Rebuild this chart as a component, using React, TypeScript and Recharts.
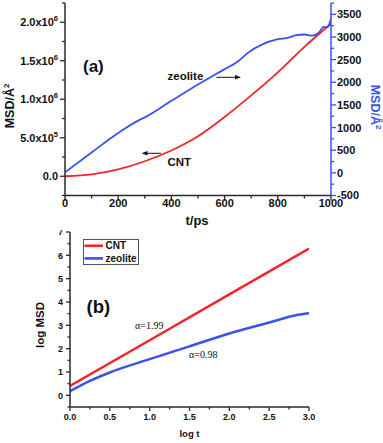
import React from 'react';
import { LineChart, Line, XAxis, YAxis, Legend } from 'recharts';

// ---------- Panel (a) data ----------
const cntTimePs = [0, 100, 200, 300, 400, 500, 600, 700, 800, 900, 1000];
const cntMsd = [0, 2.5e4, 9e4, 1.95e5, 3.35e5, 5.2e5, 7.7e5, 1.05e6, 1.35e6, 1.68e6, 1.98e6];

const zeoTimePs = [0, 100, 200, 280, 300, 400, 500, 600, 650, 690, 740, 800, 840, 865, 900, 930, 955, 972, 985, 1000];
const zeoMsd = [12, 450, 880, 1170, 1225, 1590, 1950, 2290, 2460, 2660, 2830, 2950, 2985, 3035, 3055, 3028, 3100, 3225, 3210, 3410];

const aXTicks = [0, 100, 200, 300, 400, 500, 600, 700, 800, 900, 1000];
const aLeftTicks = [-250000, 0, 250000, 500000, 750000, 1000000, 1250000, 1500000, 1750000, 2000000, 2250000];
const aRightTicks = [-500, -250, 0, 250, 500, 750, 1000, 1250, 1500, 1750, 2000, 2250, 2500, 2750, 3000, 3250, 3500, 3750];

// ---------- Panel (b) data ----------
const logTCnt = [0, 1, 2, 3];
const logMsdCnt = [0.4, 2.36, 4.33, 6.29];
const logTZeo = [0, 0.25, 0.5, 1.0, 1.5, 2.0, 2.5, 2.85, 2.95, 3.0];
const logMsdZeo = [0.18, 0.62, 0.98, 1.55, 2.1, 2.65, 3.12, 3.44, 3.5, 3.52];

const bXTicks = [0, 0.25, 0.5, 0.75, 1, 1.25, 1.5, 1.75, 2, 2.25, 2.5, 2.75, 3];
const bYTicks = [-0.5, 0, 0.5, 1, 1.5, 2, 2.5, 3, 3.5, 4, 4.5, 5, 5.5, 6, 6.5, 7];

const seriesNames = ['CNT', 'zeolite'];

const cntA = cntTimePs.map((t, i) => ({ x: t, y: cntMsd[i] }));
const zeoA = zeoTimePs.map((t, i) => ({ x: t, y: zeoMsd[i] }));
const cntB = logTCnt.map((t, i) => ({ x: t, y: logMsdCnt[i] }));
const zeoB = logTZeo.map((t, i) => ({ x: t, y: logMsdZeo[i] }));

const FONT = '"Liberation Sans", Arial, Helvetica, sans-serif';
const SERIF = '"Liberation Serif", "Times New Roman", serif';
const RED = '#f0262a';
const BLUE = '#3a52f0';
const AXIS = '#2a2a2a';
const TEXT = '#111';

const isMult = (v: number, step: number) => Math.abs(v / step - Math.round(v / step)) < 1e-6;

function sciLabel(v: number) {
  if (v === 0) return <>0.0</>;
  const exp = Math.floor(Math.log10(v) + 1e-9);
  const mant = v / Math.pow(10, exp);
  return (
    <>
      {mant.toFixed(1)}x10
      <tspan dy={-5} fontSize={7.5}>{exp}</tspan>
    </>
  );
}

const LeftTickA = (p: any) => {
  const { x, y, payload } = p;
  const v = payload.value as number;
  const major = isMult(v, 500000);
  const showLabel = major && v >= 0 && v <= 2000000;
  return (
    <g>
      <line x1={x} x2={x - (major ? 5 : 3)} y1={y} y2={y} stroke={AXIS} strokeWidth={1.3} />
      {showLabel && (
        <text x={x - 7} y={y} dy="0.36em" textAnchor="end" fontFamily={FONT} fontWeight="bold" fontSize={11} fill={TEXT}>
          {sciLabel(v)}
        </text>
      )}
    </g>
  );
};

const RightTickA = (p: any) => {
  const { x, y, payload } = p;
  const v = payload.value as number;
  const major = isMult(v, 500);
  const showLabel = major && v <= 3500;
  return (
    <g>
      <line x1={x} x2={x + (major ? 5 : 3)} y1={y} y2={y} stroke={BLUE} strokeWidth={1.3} />
      {showLabel && (
        <text x={x + 6} y={y} dy="0.36em" textAnchor="start" fontFamily={FONT} fontWeight="bold" fontSize={11} fill={TEXT}>
          {String(v)}
        </text>
      )}
    </g>
  );
};

const BottomTickA = (p: any) => {
  const { x, y, payload } = p;
  const v = payload.value as number;
  const major = isMult(v, 200);
  return (
    <g>
      <line x1={x} x2={x} y1={y} y2={y + (major ? 5 : 3)} stroke={AXIS} strokeWidth={1.3} />
      {major && (
        <text x={x} y={y + 4} dy="0.72em" textAnchor="middle" fontFamily={FONT} fontWeight="bold" fontSize={11} fill={TEXT}>
          {String(v)}
        </text>
      )}
    </g>
  );
};

const LeftTickB = (p: any) => {
  const { x, y, payload } = p;
  const v = payload.value as number;
  const major = isMult(v, 1);
  const showLabel = major && v >= 0;
  return (
    <g>
      <line x1={x} x2={x - (major ? 4 : 2.5)} y1={y} y2={y} stroke={AXIS} strokeWidth={1.3} />
      {showLabel && (
        <text x={x - 7} y={y} dy="0.36em" textAnchor="end" fontFamily={FONT} fontWeight="bold" fontSize={9} fill={TEXT}>
          {String(v)}
        </text>
      )}
    </g>
  );
};

const BottomTickB = (p: any) => {
  const { x, y, payload } = p;
  const v = payload.value as number;
  const major = isMult(v, 0.5);
  return (
    <g>
      <line x1={x} x2={x} y1={y} y2={y + (major ? 4 : 2.5)} stroke={AXIS} strokeWidth={1.3} />
      {major && (
        <text x={x} y={y + 7} dy="0.72em" textAnchor="middle" fontFamily={FONT} fontWeight="bold" fontSize={9} fill={TEXT}>
          {v.toFixed(1)}
        </text>
      )}
    </g>
  );
};

const LegendBox = (props: any) => {
  const payload = (props.payload || []) as any[];
  return (
    <svg width={56} height={26} style={{ display: 'block' }}>
      <rect x={0.5} y={0.5} width={55} height={25} fill="#fff" stroke="#555" strokeWidth={1} />
      {payload.map((e: any, i: number) => (
        <g key={i}>
          <line x1={1.5} x2={20} y1={6.8 + i * 12.6} y2={6.8 + i * 12.6} stroke={e.color} strokeWidth={2.6} />
          <text x={22.5} y={6.8 + i * 12.6} dy="0.36em" fontFamily={FONT} fontWeight="bold" fontSize={10} fill={TEXT}>
            {e.value}
          </text>
        </g>
      ))}
    </svg>
  );
};

function Arrow({ x1, x2, y }: { x1: number; x2: number; y: number }) {
  const dir = x2 > x1 ? 1 : -1;
  return (
    <g>
      <line x1={x1} x2={x2 - dir * 4} y1={y} y2={y} stroke={TEXT} strokeWidth={1} />
      <path d={`M${x2},${y} L${x2 - dir * 6},${y - 2.2} L${x2 - dir * 6},${y + 2.2} Z`} fill={TEXT} />
    </g>
  );
}

export default function App() {
  return (
    <div style={{ position: 'absolute', left: 0, top: 0, width: 383, height: 443, background: '#fff', overflow: 'hidden' }}>
      {/* Panel (a) */}
      <div style={{ position: 'absolute', left: 0, top: 0, width: 383, height: 232 }}>
        <LineChart width={383} height={232} margin={{ top: 3, right: 0, bottom: 0, left: 0 }}>
          <XAxis
            dataKey="x"
            type="number"
            domain={[0, 1000]}
            ticks={aXTicks}
            interval={0}
            height={36.5}
            tickSize={0}
            tickMargin={0}
            tickLine={false}
            axisLine={{ stroke: AXIS, strokeWidth: 1.5 }}
            tick={BottomTickA}
            allowDataOverflow
          />
          <YAxis
            yAxisId="left"
            type="number"
            domain={[-250000, 2250000]}
            ticks={aLeftTicks}
            interval={0}
            width={65}
            tickSize={0}
            tickMargin={0}
            tickLine={false}
            axisLine={{ stroke: AXIS, strokeWidth: 1.5 }}
            tick={LeftTickA}
            allowDataOverflow
          />
          <YAxis
            yAxisId="right"
            orientation="right"
            type="number"
            domain={[-500, 3750]}
            ticks={aRightTicks}
            interval={0}
            width={52}
            tickSize={0}
            tickMargin={0}
            tickLine={false}
            axisLine={{ stroke: BLUE, strokeWidth: 1.5 }}
            tick={RightTickA}
            allowDataOverflow
          />
          <Line yAxisId="left" data={cntA} dataKey="y" name={seriesNames[0]} type="monotone" stroke={RED} strokeWidth={1.8} dot={false} isAnimationActive={false} />
          <Line yAxisId="right" data={zeoA} dataKey="y" name={seriesNames[1]} type="monotone" stroke={BLUE} strokeWidth={1.8} dot={false} isAnimationActive={false} />
        </LineChart>
      </div>

      {/* Panel (b) */}
      <div style={{ position: 'absolute', left: 0, top: 230, width: 383, height: 213, overflow: 'hidden' }}>
        <LineChart width={383} height={213} margin={{ top: 2, right: 74, bottom: 0, left: 0 }}>
          <XAxis
            dataKey="x"
            type="number"
            domain={[0, 3]}
            ticks={bXTicks}
            interval={0}
            height={36}
            tickSize={0}
            tickMargin={0}
            tickLine={false}
            axisLine={{ stroke: AXIS, strokeWidth: 1.5 }}
            tick={BottomTickB}
            allowDataOverflow
          />
          <YAxis
            type="number"
            domain={[-0.5, 7]}
            ticks={bYTicks}
            interval={0}
            width={70}
            tickSize={0}
            tickMargin={0}
            tickLine={false}
            axisLine={{ stroke: AXIS, strokeWidth: 1.5 }}
            tick={LeftTickB}
            allowDataOverflow
          />
          <Legend
            layout="vertical"
            align="center"
            verticalAlign="middle"
            content={LegendBox}
            wrapperStyle={{ position: 'absolute', left: 82.5, top: 9, width: 56, height: 26 }}
          />
          <Line data={cntB} dataKey="y" name={seriesNames[0]} type="linear" stroke={RED} strokeWidth={2.5} dot={false} isAnimationActive={false} />
          <Line data={zeoB} dataKey="y" name={seriesNames[1]} type="monotone" stroke={BLUE} strokeWidth={2.5} dot={false} isAnimationActive={false} />
        </LineChart>
      </div>

      {/* Annotations and axis titles */}
      <svg width={383} height={443} style={{ position: 'absolute', left: 0, top: 0, pointerEvents: 'none' }}>
        <text transform="translate(9,106) rotate(-90)" textAnchor="middle" dy="0.36em" fontFamily={FONT} fontWeight="bold" fontSize={12.5} fill={TEXT}>
          MSD/Å<tspan dy={-5} fontSize={8}>2</tspan>
        </text>
        <text transform="translate(375,107) rotate(90)" textAnchor="middle" dy="0.36em" fontFamily={FONT} fontWeight="bold" fontSize={12.5} fill={BLUE}>
          MSD/Å<tspan dy={-5} fontSize={8}>2</tspan>
        </text>
        <text x={197} y={225} textAnchor="middle" fontFamily={FONT} fontWeight="bold" fontSize={13} fill={TEXT}>t/ps</text>
        <text x={83} y={72} fontFamily={FONT} fontWeight="bold" fontSize={17} fill={TEXT}>(a)</text>
        <text x={167.5} y={79.5} fontFamily={FONT} fontWeight="bold" fontSize={11.5} fill={TEXT}>zeolite</text>
        <Arrow x1={216.5} x2={241} y={77.3} />
        <text x={167.5} y={166} fontFamily={FONT} fontWeight="bold" fontSize={11.5} fill={TEXT}>CNT</text>
        <Arrow x1={161} x2={141.5} y={153.3} />

        <text transform="translate(40,325) rotate(-90)" textAnchor="middle" dy="0.36em" fontFamily={FONT} fontWeight="bold" fontSize={11.5} fill={TEXT}>log MSD</text>
        <text x={189.5} y={437} textAnchor="middle" fontFamily={FONT} fontWeight="bold" fontSize={9.5} fill={TEXT}>log t</text>
        <text x={86.5} y={312.5} fontFamily={FONT} fontWeight="bold" fontSize={18.5} fill={TEXT}>(b)</text>
        <text x={135} y={329} fontFamily={SERIF} fontSize={10} fill={TEXT}>α=1.99</text>
        <text x={189} y={357.5} fontFamily={SERIF} fontSize={10} fill={TEXT}>α=0.98</text>
      </svg>
    </div>
  );
}
